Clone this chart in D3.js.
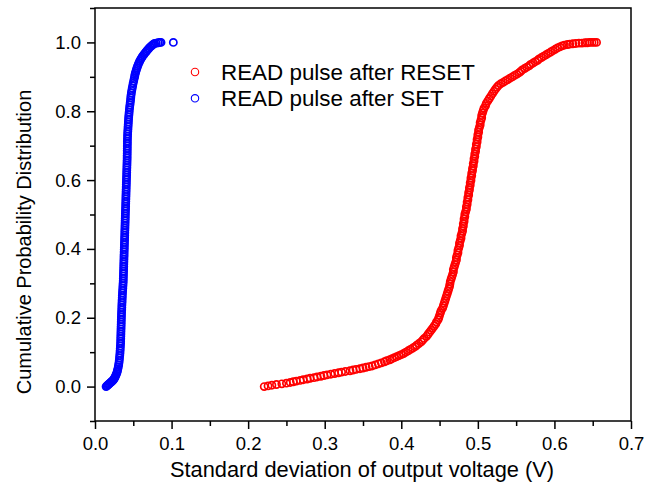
<!DOCTYPE html>
<html>
<head>
<meta charset="utf-8">
<script src="https://cdn.jsdelivr.net/npm/d3@7"></script>
<style>
body { margin: 0; background: #fff; }
text { font-family: "Liberation Sans", Arial, sans-serif; fill: #000; }
</style>
</head>
<body>
<svg></svg>
<script>
// [standard deviation (V), cumulative probability]
const resetPoints = [
  [0.221,0.000],[0.226,0.002],[0.231,0.004],[0.237,0.006],[0.244,0.008],[0.250,0.010],
  [0.255,0.012],[0.259,0.014],[0.263,0.016],[0.268,0.018],[0.272,0.020],[0.277,0.022],
  [0.281,0.024],[0.286,0.026],[0.290,0.028],[0.295,0.030],[0.299,0.032],[0.303,0.034],
  [0.308,0.036],[0.313,0.038],[0.318,0.040],[0.322,0.042],[0.327,0.044],[0.333,0.046],
  [0.337,0.048],[0.341,0.050],[0.346,0.052],[0.350,0.054],[0.354,0.056],[0.358,0.058],
  [0.362,0.060],[0.366,0.063],[0.370,0.066],[0.374,0.069],[0.378,0.072],[0.381,0.075],
  [0.385,0.078],[0.388,0.081],[0.391,0.084],[0.394,0.087],[0.397,0.090],[0.400,0.093],
  [0.403,0.096],[0.406,0.100],[0.409,0.104],[0.412,0.108],[0.415,0.112],[0.418,0.116],
  [0.420,0.120],[0.423,0.125],[0.426,0.130],[0.428,0.135],[0.430,0.140],[0.433,0.146],
  [0.435,0.152],[0.437,0.158],[0.439,0.164],[0.441,0.170],[0.443,0.176],[0.445,0.182],
  [0.446,0.188],[0.448,0.194],[0.449,0.200],[0.450,0.207],[0.451,0.214],[0.452,0.221],
  [0.454,0.228],[0.455,0.235],[0.456,0.242],[0.457,0.249],[0.458,0.256],[0.459,0.263],
  [0.460,0.270],[0.461,0.277],[0.462,0.284],[0.463,0.291],[0.4635,0.298],[0.464,0.305],
  [0.465,0.312],[0.466,0.319],[0.467,0.326],[0.468,0.333],[0.468,0.340],[0.469,0.347],
  [0.470,0.354],[0.471,0.361],[0.472,0.368],[0.472,0.375],[0.473,0.382],[0.474,0.389],
  [0.474,0.396],[0.475,0.403],[0.476,0.410],[0.476,0.417],[0.477,0.424],[0.478,0.431],
  [0.478,0.438],[0.479,0.445],[0.480,0.452],[0.480,0.459],[0.481,0.466],[0.481,0.473],
  [0.482,0.480],[0.482,0.487],[0.483,0.494],[0.483,0.501],[0.484,0.508],[0.485,0.515],
  [0.485,0.522],[0.486,0.529],[0.486,0.536],[0.487,0.543],[0.487,0.550],[0.488,0.557],
  [0.488,0.564],[0.489,0.571],[0.489,0.578],[0.490,0.585],[0.490,0.592],[0.491,0.599],
  [0.491,0.606],[0.492,0.613],[0.492,0.620],[0.493,0.627],[0.493,0.634],[0.494,0.641],
  [0.494,0.648],[0.495,0.655],[0.495,0.662],[0.496,0.669],[0.496,0.676],[0.497,0.683],
  [0.497,0.690],[0.498,0.697],[0.498,0.704],[0.499,0.711],[0.499,0.718],[0.500,0.725],
  [0.500,0.732],[0.501,0.739],[0.501,0.746],[0.502,0.753],[0.503,0.760],[0.503,0.767],
  [0.504,0.774],[0.505,0.781],[0.505,0.788],[0.506,0.795],[0.507,0.802],[0.508,0.809],
  [0.510,0.816],[0.511,0.823],[0.513,0.830],[0.515,0.837],[0.517,0.844],[0.519,0.851],
  [0.521,0.858],[0.523,0.864],[0.525,0.870],[0.527,0.875],[0.530,0.880],[0.533,0.884],
  [0.536,0.888],[0.539,0.892],[0.542,0.896],[0.545,0.900],[0.548,0.904],[0.551,0.908],
  [0.554,0.912],[0.556,0.916],[0.558,0.920],[0.561,0.924],[0.564,0.928],[0.567,0.932],
  [0.569,0.936],[0.572,0.940],[0.575,0.944],[0.578,0.948],[0.580,0.952],[0.583,0.956],
  [0.586,0.960],[0.589,0.964],[0.592,0.968],[0.595,0.972],[0.598,0.976],[0.601,0.980],
  [0.604,0.984],[0.607,0.987],[0.610,0.990],[0.613,0.992],[0.617,0.994],[0.620,0.995],
  [0.624,0.996],[0.628,0.997],[0.632,0.998],[0.636,0.998],[0.640,0.999],[0.643,0.999],
  [0.646,1.000],[0.649,1.000],[0.652,1.000],[0.655,1.000]
];

const setPoints = [
  [0.0145,0.000],[0.0155,0.002],[0.0165,0.004],[0.0175,0.006],[0.0185,0.008],[0.0195,0.010],
  [0.0205,0.012],[0.0215,0.014],[0.0225,0.016],[0.0235,0.018],[0.0242,0.020],[0.0250,0.023],
  [0.0258,0.026],[0.0265,0.029],[0.0273,0.033],[0.0280,0.037],[0.0287,0.041],[0.0293,0.046],
  [0.0298,0.051],[0.0304,0.057],[0.0309,0.063],[0.0313,0.069],[0.0317,0.076],[0.0320,0.083],
  [0.0323,0.090],[0.0326,0.097],[0.0328,0.104],[0.0330,0.111],[0.0332,0.118],[0.0334,0.125],
  [0.0335,0.132],[0.0336,0.139],[0.0337,0.146],[0.0338,0.153],[0.0339,0.160],[0.0340,0.167],
  [0.0341,0.174],[0.0342,0.181],[0.0343,0.188],[0.0344,0.195],[0.0345,0.202],[0.0346,0.209],
  [0.0347,0.216],[0.0349,0.223],[0.0350,0.230],[0.0351,0.237],[0.0353,0.244],[0.0354,0.251],
  [0.0356,0.258],[0.0357,0.265],[0.0359,0.272],[0.0361,0.279],[0.0363,0.286],[0.0365,0.293],
  [0.0367,0.300],[0.0369,0.307],[0.0370,0.314],[0.0371,0.321],[0.0372,0.328],[0.0373,0.335],
  [0.0374,0.342],[0.0375,0.349],[0.0376,0.356],[0.0377,0.363],[0.0378,0.370],[0.0379,0.377],
  [0.0380,0.384],[0.0381,0.391],[0.0382,0.398],[0.0383,0.405],[0.0384,0.412],[0.0385,0.419],
  [0.0386,0.426],[0.0387,0.433],[0.0388,0.440],[0.0389,0.447],[0.0390,0.454],[0.0391,0.461],
  [0.0392,0.468],[0.0393,0.475],[0.0394,0.482],[0.0395,0.489],[0.0396,0.496],[0.0397,0.503],
  [0.0398,0.510],[0.0399,0.517],[0.0400,0.524],[0.0401,0.531],[0.0402,0.538],[0.0403,0.545],
  [0.0404,0.552],[0.0405,0.559],[0.0406,0.566],[0.0407,0.573],[0.0408,0.580],[0.0409,0.587],
  [0.0410,0.594],[0.0411,0.601],[0.0412,0.608],[0.0413,0.615],[0.0414,0.622],[0.0415,0.629],
  [0.0416,0.636],[0.0417,0.643],[0.0418,0.650],[0.0419,0.657],[0.0420,0.664],[0.0420,0.671],
  [0.0421,0.678],[0.0421,0.685],[0.0422,0.692],[0.0422,0.699],[0.0423,0.706],[0.0423,0.713],
  [0.0424,0.720],[0.0425,0.727],[0.0426,0.734],[0.0428,0.741],[0.0430,0.748],[0.0432,0.755],
  [0.0434,0.762],[0.0436,0.769],[0.0438,0.776],[0.0440,0.783],[0.0443,0.790],[0.0446,0.797],
  [0.0449,0.804],[0.0452,0.811],[0.0456,0.818],[0.0460,0.825],[0.0464,0.832],[0.0467,0.839],
  [0.0470,0.846],[0.0475,0.853],[0.0480,0.860],[0.0486,0.867],[0.0492,0.874],[0.0498,0.881],
  [0.0505,0.888],[0.0512,0.895],[0.0518,0.901],[0.0522,0.906],[0.0527,0.911],[0.0534,0.916],
  [0.0541,0.921],[0.0548,0.926],[0.0556,0.931],[0.0565,0.936],[0.0575,0.941],[0.0585,0.946],
  [0.0597,0.951],[0.0608,0.955],[0.0618,0.959],[0.0632,0.963],[0.0645,0.967],[0.0660,0.971],
  [0.0675,0.975],[0.0690,0.979],[0.0705,0.983],[0.0722,0.987],[0.0738,0.990],[0.0752,0.993],
  [0.0765,0.995],[0.0778,0.997],[0.0800,0.998],[0.0825,0.999],[0.0845,1.000],[0.0862,1.000],
  [0.1023,1.000]
];

const seriesNames = ['READ pulse after RESET', 'READ pulse after SET'];
const seriesColors = ['#ff0000', '#0000ff'];

const xMajorTicks = [0, 0.1, 0.2, 0.3, 0.4, 0.5, 0.6, 0.7];
const xMinorTicks = [0.05, 0.15, 0.25, 0.35, 0.45, 0.55, 0.65];
const yMajorTicks = [0, 0.2, 0.4, 0.6, 0.8, 1.0];
const yMinorTicks = [-0.1, 0.1, 0.3, 0.5, 0.7, 0.9, 1.1];

const xTitle = 'Standard deviation of output voltage (V)';
const yTitle = 'Cumulative Probability Distribution';

const size = {w: 656, h: 489};
const margin = {t: 8, r: 25, b: 68, l: 95};
const innerW = size.w - margin.l - margin.r;
const innerH = size.h - margin.t - margin.b;

const svg = d3.select('svg')
    .attr('width', size.w)
    .attr('height', size.h);

const x = d3.scaleLinear().domain([0, 0.7]).range([0, innerW]);
const y = d3.scaleLinear().domain([-0.1, 1.1]).range([innerH, 0]);

const g = svg.append('g').attr('transform', `translate(${margin.l},${margin.t})`);

// minor ticks first, then major ticks with labels
g.append('g')
    .attr('transform', `translate(0,${innerH})`)
    .call(d3.axisBottom(x).tickValues(xMinorTicks).tickSize(5).tickFormat(''))
    .call(a => a.select('.domain').remove());
g.append('g')
    .attr('transform', `translate(0,${innerH})`)
    .call(d3.axisBottom(x).tickValues(xMajorTicks).tickSize(8).tickPadding(8).tickFormat(d3.format('.1f')))
    .call(a => a.select('.domain').remove())
    .call(a => a.selectAll('text').style('font-size', '18.5px').attr('fill', '#000'));

g.append('g')
    .call(d3.axisLeft(y).tickValues(yMinorTicks).tickSize(5).tickFormat(''))
    .call(a => a.select('.domain').remove());
g.append('g')
    .call(d3.axisLeft(y).tickValues(yMajorTicks).tickSize(8).tickPadding(6).tickFormat(d3.format('.1f')))
    .call(a => a.select('.domain').remove())
    .call(a => a.selectAll('text').style('font-size', '18.5px').attr('fill', '#000'));

g.selectAll('.tick line').attr('stroke', '#000').attr('stroke-width', 1.5);
g.selectAll('.tick text').style('font-family', '"Liberation Sans", Arial, sans-serif');

// frame
g.append('rect')
    .attr('width', innerW)
    .attr('height', innerH)
    .attr('fill', 'none')
    .attr('stroke', '#000')
    .attr('stroke-width', 1.5);

// scatter series: open circles, dense enough to merge into a band
const series = [resetPoints, setPoints];
series.forEach((pts, i) => {
    g.append('g')
        .selectAll('circle')
        .data(pts)
        .join('circle')
        .attr('cx', d => x(d[0]))
        .attr('cy', d => y(d[1]))
        .attr('r', 3.6)
        .attr('fill', 'none')
        .attr('stroke', seriesColors[i])
        .attr('stroke-width', 1.7);
});

// legend
const legend = g.append('g').attr('transform', 'translate(100,64)');
seriesNames.forEach((name, i) => {
    const row = legend.append('g').attr('transform', `translate(0,${i * 26.3})`);
    row.append('circle')
        .attr('r', 3.7)
        .attr('fill', 'none')
        .attr('stroke', seriesColors[i])
        .attr('stroke-width', 1.1);
    row.append('text')
        .attr('x', 26)
        .attr('y', 8)
        .style('font-size', '22.4px')
        .text(name);
});

// axis titles
svg.append('text')
    .attr('x', margin.l + innerW / 2 - 1)
    .attr('y', 477)
    .attr('text-anchor', 'middle')
    .style('font-size', '21.8px')
    .text(xTitle);

svg.append('text')
    .attr('transform', 'translate(31,242) rotate(-90)')
    .attr('text-anchor', 'middle')
    .style('font-size', '20px')
    .text(yTitle);
</script>
</body>
</html>
